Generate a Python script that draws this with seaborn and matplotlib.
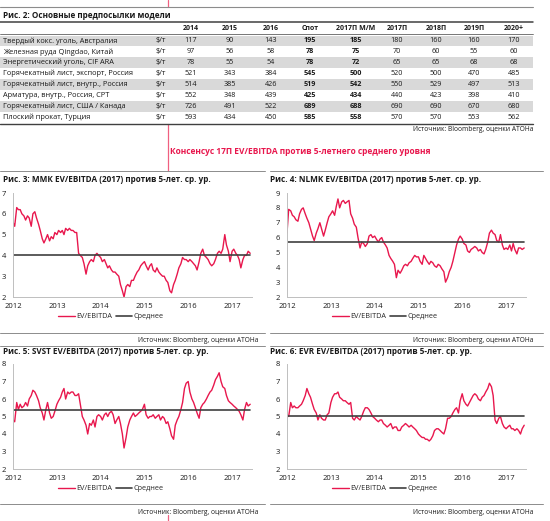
import numpy as np
import pandas as pd
import matplotlib
matplotlib.use('Agg')
import matplotlib.pyplot as plt
import seaborn as sns

sns.set_style('white')
plt.rcParams['font.family'] = ['Open Sans', 'DejaVu Sans']

W, H = 550, 521
RED = '#e8174d'
DARK = '#404040'
TXT = '#1a1a1a'

# Таблица: основные предпосылки модели
table_title = 'Рис. 2: Основные предпосылки модели'
table_cols = ['2014', '2015', '2016', 'Спот', '2017П М/М', '2017П', '2018П', '2019П', '2020+']
row_labels = ['Твердый кокс. уголь, Австралия', 'Железная руда Qingdao, Китай',
              'Энергетический уголь, CIF ARA', 'Горячекатный лист, экспорт, Россия',
              'Горячекатный лист, внутр., Россия', 'Арматура, внутр., Россия, CPT',
              'Горячекатный лист, США / Канада', 'Плоский прокат, Турция']
unit = '$/т'
v2014 = [117, 97, 78, 521, 514, 552, 726, 593]
v2015 = [90, 56, 55, 343, 385, 348, 491, 434]
v2016 = [143, 58, 54, 384, 426, 439, 522, 450]
spot = [195, 78, 78, 545, 519, 425, 689, 585]
f2017mm = [185, 75, 72, 500, 542, 434, 688, 558]
f2017 = [180, 70, 65, 520, 550, 440, 690, 570]
f2018 = [160, 60, 65, 500, 529, 423, 690, 570]
f2019 = [160, 55, 68, 470, 497, 398, 670, 553]
f2020 = [170, 60, 68, 485, 513, 410, 680, 562]
bold_cols = ['Спот', '2017П М/М']
source = 'Источник: Bloomberg, оценки АТОНа'
heading = 'Консенсус 17П EV/EBITDA против 5-летнего среднего уровня'

# Мультипликаторы EV/EBITDA, каждые полмесяца с 01.2012
dates = pd.date_range('2012-01-01', periods=131, freq='SMS')

mmk = [5.6, 5.4, 6.3, 6.2, 6.2, 6.0, 5.9, 5.7, 5.9, 5.8, 5.4, 6.0, 6.1, 5.8, 5.5, 5.2,
       4.8, 4.6, 4.8, 5.0, 4.7, 4.9, 4.8, 5.1, 5.0, 5.2, 5.1, 5.2, 5.0, 5.3, 5.2, 5.3,
       5.2, 5.2, 5.1, 5.1, 4.1, 4.0, 3.9, 3.6, 3.1, 3.5, 3.7, 3.8, 3.7, 4.0, 4.1, 4.0,
       3.9, 3.7, 3.8, 3.6, 3.4, 3.5, 3.3, 3.2, 3.2, 3.1, 3.0, 2.6, 2.3, 2.0, 2.5, 2.6,
       2.5, 2.8, 2.8, 3.0, 3.2, 3.3, 3.5, 3.6, 3.7, 3.5, 3.3, 3.5, 3.6, 3.3, 3.2, 3.4,
       3.2, 3.1, 3.0, 3.0, 2.8, 2.7, 2.3, 2.2, 2.6, 2.8, 3.1, 3.4, 3.6, 3.9, 3.8, 3.8,
       3.7, 3.8, 3.7, 3.6, 3.5, 3.3, 3.7, 4.1, 4.3, 4.0, 3.9, 3.8, 3.6, 3.5, 3.6, 3.8,
       4.1, 4.2, 4.1, 4.3, 5.0, 4.5, 4.2, 3.7, 4.2, 4.3, 4.1, 4.0, 3.8, 3.4, 3.8, 4.0,
       4.0, 4.2, 4.1]
nlmk = [6.3, 7.9, 7.8, 7.5, 7.4, 7.2, 7.1, 7.6, 7.9, 8.0, 7.6, 7.3, 7.0, 6.6, 6.1, 5.8,
        6.3, 6.6, 7.0, 6.6, 6.1, 6.5, 7.0, 7.4, 7.6, 7.8, 7.5, 8.1, 8.6, 8.0, 8.4, 8.5,
        8.3, 8.4, 8.5, 7.6, 7.3, 6.9, 6.7, 6.0, 5.3, 5.7, 5.6, 5.4, 5.6, 6.1, 6.2, 6.0,
        6.1, 5.9, 5.7, 5.9, 6.0, 5.7, 5.5, 5.3, 4.8, 4.6, 4.4, 4.2, 3.3, 3.8, 3.6, 3.8,
        4.1, 4.2, 4.1, 4.3, 4.4, 4.6, 4.8, 4.7, 4.7, 4.4, 4.2, 4.8, 4.6, 4.4, 4.2, 4.4,
        4.3, 4.1, 4.0, 4.2, 4.1, 3.9, 3.7, 3.0, 3.3, 3.7, 4.0, 4.4, 5.0, 5.5, 5.9, 6.1,
        5.9, 5.6, 5.5, 5.1, 5.0, 5.2, 5.3, 5.4, 5.3, 5.1, 5.2, 5.0, 4.9, 5.2, 5.7, 6.3,
        6.5, 6.3, 6.2, 5.8, 5.7, 6.2, 5.5, 5.2, 5.3, 5.2, 5.5, 5.1, 5.6, 5.2, 4.9, 5.3,
        5.3, 5.2, 5.3]
svst = [4.8, 4.7, 5.8, 5.4, 5.7, 5.5, 5.6, 5.8, 5.6, 6.0, 6.2, 6.5, 6.4, 6.2, 5.9, 5.5,
        5.2, 4.8, 5.4, 5.8, 5.2, 4.9, 5.0, 5.3, 5.7, 5.9, 6.1, 6.4, 6.6, 6.0, 6.4, 6.3,
        6.4, 6.4, 6.2, 6.2, 6.3, 5.7, 5.0, 4.8, 4.5, 4.0, 4.6, 4.5, 4.8, 4.4, 5.0, 5.1,
        5.0, 4.8, 5.1, 5.2, 5.0, 5.2, 5.3, 5.1, 4.6, 4.8, 5.0, 4.6, 4.0, 3.2, 3.8, 4.4,
        4.8, 5.0, 5.2, 5.0, 5.1, 5.2, 5.3, 5.4, 5.7, 5.1, 4.9, 5.0, 5.0, 5.1, 4.9, 5.0,
        5.1, 4.8, 5.0, 4.9, 4.6, 4.7, 4.3, 3.9, 3.7, 4.5, 4.8, 5.0, 5.4, 5.8, 6.6, 6.9,
        7.0, 6.4, 6.0, 5.8, 5.5, 5.2, 4.9, 5.5, 5.7, 5.8, 6.0, 6.2, 6.4, 6.5, 6.8, 7.1,
        7.3, 7.5, 7.0, 6.7, 6.6, 6.2, 5.9, 5.8, 5.7, 5.6, 5.5, 5.4, 5.3, 5.1, 4.8, 5.4,
        5.8, 5.6, 5.7]
evr = [5.1, 5.0, 5.8, 5.5, 5.6, 5.5, 5.5, 5.6, 5.7, 5.9, 6.2, 6.6, 6.3, 6.1, 5.7, 5.4,
       5.2, 4.8, 5.1, 4.9, 4.8, 4.8, 5.1, 5.2, 5.8, 6.1, 6.3, 6.3, 6.4, 6.1, 6.0, 5.9,
       5.9, 5.8, 5.7, 5.8, 4.9, 4.8, 5.0, 4.9, 4.8, 5.0, 5.3, 5.5, 5.5, 5.4, 5.2, 5.0,
       4.9, 4.8, 4.7, 4.8, 4.8, 4.6, 4.5, 4.4, 4.5, 4.6, 4.3, 4.4, 4.4, 4.2, 4.2, 4.4,
       4.5, 4.6, 4.5, 4.4, 4.5, 4.4, 4.3, 4.2, 4.0, 3.9, 3.8, 3.8, 3.7, 3.7, 3.6, 3.7,
       3.9, 4.2, 4.3, 4.3, 4.2, 4.1, 4.0, 4.3, 4.9, 4.9, 5.0, 5.2, 5.4, 5.5, 5.2, 5.9,
       6.3, 5.9, 5.7, 5.6, 5.8, 6.0, 6.2, 6.3, 6.2, 6.0, 5.9, 6.1, 6.2, 6.4, 6.6, 6.9,
       6.7, 6.2, 4.8, 4.6, 4.9, 5.0, 4.6, 4.4, 4.3, 4.4, 4.5, 4.3, 4.3, 4.2, 4.3, 4.2,
       4.0, 4.3, 4.5]

charts = [
    ('Рис. 3: ММК EV/EBITDA (2017) против 5-лет. ср. ур.', mmk, 4.0, (2, 7), (13, 193, 297), 3),
    ('Рис. 4: NLMK EV/EBITDA (2017) против 5-лет. ср. ур.', nlmk, 5.7, (2, 9), (287, 193, 297), 270),
    ('Рис. 5: SVST EV/EBITDA (2017) против 5-лет. ср. ур.', svst, 5.4, (2, 8), (13, 364, 469), 3),
    ('Рис. 6: EVR EV/EBITDA (2017) против 5-лет. ср. ур.', evr, 5.05, (2, 8), (287, 364, 469), 270),
]

fig = plt.figure(figsize=(W / 100, H / 100), dpi=100)
bg = fig.add_axes([0, 0, 1, 1])
bg.set_xlim(0, W)
bg.set_ylim(H, 0)
bg.axis('off')

# вертикальная линия поля страницы
for y0, y1 in [(0, 7), (124, 171), (515, 521)]:
    bg.plot([168, 168], [y0, y1], color='#f06080', lw=0.9)

# --- таблица
bg.plot([0, 533], [7, 7], color='#8c8c8c', lw=0.8)
bg.text(3, 16, table_title, fontsize=5.9, fontweight='bold', va='center', color=TXT)
bg.plot([0, 533], [22, 22], color=DARK, lw=1.1)
col_x = [191, 230, 271, 310, 356, 397, 436, 474, 514]
col_vals = [v2014, v2015, v2016, spot, f2017mm, f2017, f2018, f2019, f2020]
for cx, name in zip(col_x, table_cols):
    bg.text(cx, 28, name, fontsize=5.0, fontweight='bold', ha='center', va='center', color=TXT)
bg.plot([0, 533], [33.5, 33.5], color=DARK, lw=0.5)
row_h = 10.9
for i, lab in enumerate(row_labels):
    top = 35.5 + i * row_h
    cy = top + row_h / 2
    if i % 2 == 0:
        bg.add_patch(plt.Rectangle((0, top), 533, row_h, color='#d9d9d9', lw=0))
    bg.text(3, cy, lab, fontsize=5.35, va='center', color=TXT)
    bg.text(161, cy, unit, fontsize=5.3, ha='center', va='center', color=TXT)
    for cx, name, vals in zip(col_x, table_cols, col_vals):
        bg.text(cx, cy, str(vals[i]), fontsize=5.2, ha='center', va='center', color=TXT,
                fontweight='bold' if name in bold_cols else 'normal')
bg.plot([0, 533], [124, 124], color=DARK, lw=1.0)
bg.text(533, 129.5, source, fontsize=4.8, ha='right', va='center', color=TXT)

bg.text(170, 152, heading, fontsize=6.0, fontweight='bold', va='center', color=RED)

# --- рамки панелей графиков
for x0, x1 in [(0, 265), (270, 543)]:
    for y in [171, 333, 346, 504]:
        bg.plot([x0, x1], [y, y], color='#8c8c8c', lw=0.7)
bg.text(258, 340, source, fontsize=4.8, ha='right', va='center', color=TXT)
bg.text(533, 340, source, fontsize=4.8, ha='right', va='center', color=TXT)
bg.text(258, 513, source, fontsize=4.8, ha='right', va='center', color=TXT)
bg.text(533, 513, source, fontsize=4.8, ha='right', va='center', color=TXT)

xmin, xmax = pd.Timestamp('2012-01-01'), pd.Timestamp('2017-06-16')
years = pd.to_datetime([f'{y}-01-01' for y in range(2012, 2018)])
ax_w = 239

for title, vals, mean, ylim, (left, top, bottom), tx in charts:
    bg.text(tx, top - 13, title, fontsize=5.9, fontweight='bold', va='center', color=TXT)
    ax = fig.add_axes([left / W, 1 - bottom / H, ax_w / W, (bottom - top) / H])
    df = pd.DataFrame({'date': dates, 'val': vals, 'mean': np.full(len(dates), mean)})
    sns.lineplot(data=df, x='date', y='val', ax=ax, color=RED, lw=1.0, label='EV/EBITDA')
    sns.lineplot(data=df, x='date', y='mean', ax=ax, color=DARK, lw=1.2, label='Среднее')
    ax.set_xlim(xmin, xmax)
    ax.set_ylim(*ylim)
    ax.set_xticks(years)
    ax.set_xticklabels([str(y.year) for y in years])
    ax.set_yticks(range(ylim[0], ylim[1] + 1))
    ax.set_xlabel('')
    ax.set_ylabel('')
    ax.patch.set_alpha(0)
    for s in ['top', 'right']:
        ax.spines[s].set_visible(False)
    for s in ['left', 'bottom']:
        ax.spines[s].set_color('#bfbfbf')
        ax.spines[s].set_linewidth(0.7)
    ax.tick_params(axis='x', length=0, pad=4, labelsize=5.5, colors=TXT)
    ax.tick_params(axis='y', length=2, width=0.6, color='#bfbfbf', pad=3, labelsize=5.5, labelcolor=TXT)
    ax.legend(loc='center', bbox_to_anchor=(0.41, -0.19), ncol=2, frameon=False, fontsize=5.2,
              handlelength=2.3, handletextpad=0.15, columnspacing=0.5)

fig.savefig('out.png', dpi=100, facecolor='white')
